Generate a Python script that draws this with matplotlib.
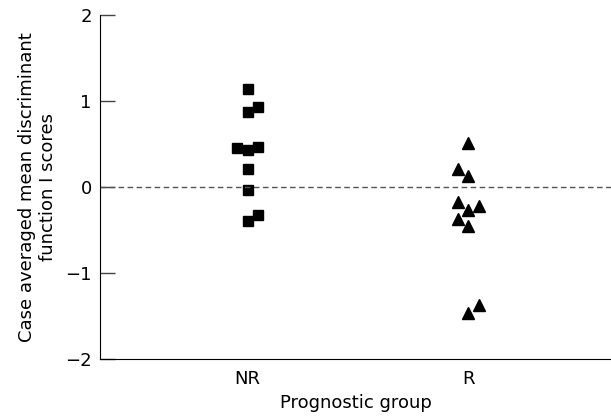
import numpy as np
from matplotlib import pyplot as plt

# Case averaged mean discriminant function 1 scores
groups = ['NR', 'R']
nr_scores = [1.14, 0.87, 0.93, 0.45, 0.43, 0.47, 0.21, -0.03, -0.40, -0.32]
nr_slot = [0, 0, 1, -1, 0, 1, 0, 0, 0, 1]
r_scores = [0.51, 0.21, 0.13, -0.18, -0.27, -0.22, -0.37, -0.45, -1.46, -1.37]
r_slot = [0, -1, 0, -1, 0, 1, -1, 0, 0, 1]

plt.rcParams.update({'font.size': 13, 'font.family': 'DejaVu Sans'})
fig = plt.figure(figsize=(6.11, 4.19), dpi=100)
ax = fig.add_axes([100/611, 1 - 359/419, 511/611, 344/419])

dx = 0.047
ax.plot(0 + dx*np.array(nr_slot), nr_scores, 's', color='black', ms=7)
ax.plot(1 + dx*np.array(r_slot), r_scores, '^', color='black', ms=8)
ax.axhline(0, color='#555555', ls=(0, (4, 2.5)), lw=1)

ax.set(xlim=[-0.669, 1.646], ylim=[-2, 2])
ax.set_xticks([0, 1])
ax.set_xticklabels(groups)
ax.set_yticks([-2, -1, 0, 1, 2])
ax.set_yticklabels(['\u22122', '\u22121', '0', '1', '2'])
ax.tick_params(axis='y', direction='in', length=11, width=1, color='#444444', pad=6)
ax.tick_params(axis='x', length=0, pad=8)
for s in ['top', 'right']:
    ax.spines[s].set_visible(False)
ax.set_xlabel('Prognostic group', labelpad=4)
ax.set_ylabel('Case averaged mean discriminant\nfunction I scores', labelpad=6)

plt.savefig('out.png')
